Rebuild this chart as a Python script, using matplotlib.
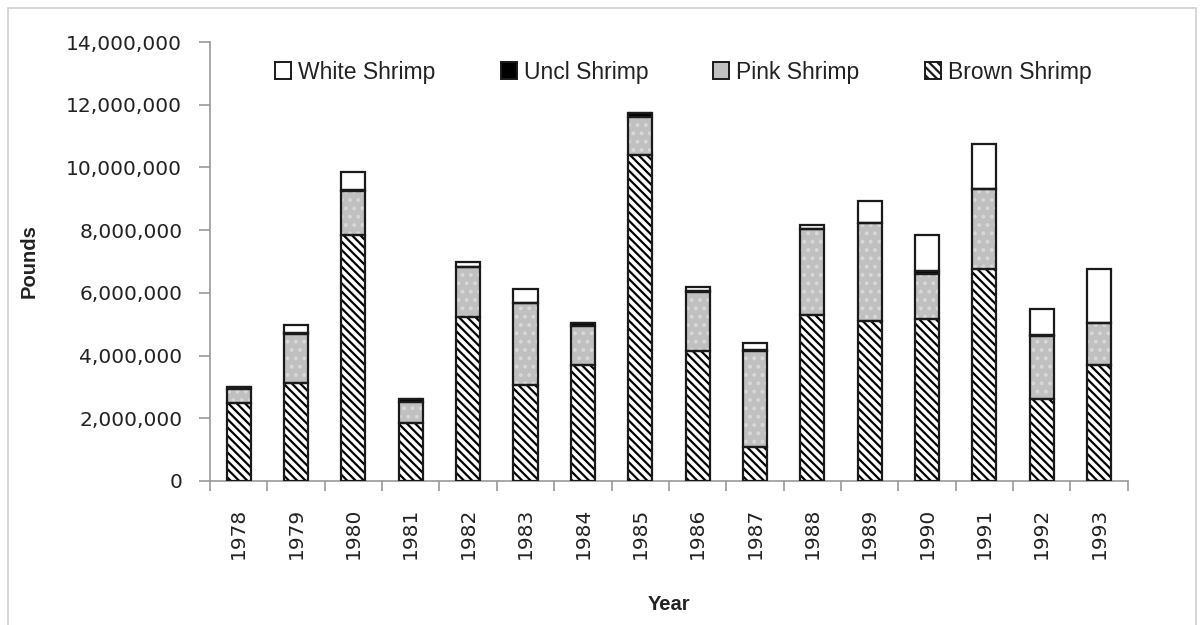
import numpy as np
import matplotlib
matplotlib.use("Agg")
from matplotlib import pyplot as plt
from matplotlib.patches import Rectangle, Patch
from matplotlib.ticker import FuncFormatter

# landings by year, pounds
years = ["1978", "1979", "1980", "1981", "1982", "1983", "1984", "1985",
         "1986", "1987", "1988", "1989", "1990", "1991", "1992", "1993"]
brown = [2500000, 3110000, 7840000, 1860000, 5220000, 3060000, 3700000, 10400000,
         4150000, 1100000, 5290000, 5110000, 5170000, 6750000, 2610000, 3700000]
pink = [420000, 1590000, 1420000, 670000, 1590000, 2610000, 1250000, 1200000,
        1890000, 3060000, 2740000, 3110000, 1430000, 2550000, 2030000, 1330000]
uncl = [80000, 20000, 10000, 80000, 10000, 10000, 90000, 140000,
        10000, 10000, 10000, 10000, 100000, 10000, 10000, 10000]
white = [0, 250000, 570000, 0, 180000, 440000, 10000, 0,
         130000, 220000, 120000, 710000, 1130000, 1430000, 820000, 1710000]

plt.rcParams['hatch.linewidth'] = 1.6

fig = plt.figure(figsize=(12.01, 6.25), dpi=100)
ax = fig.add_axes([0.1749, 0.2304, 0.7641, 0.7024])

# thin grey frame round the whole chart
fig.patches.append(Rectangle((8/1201, -0.01), 1188/1201, 1.01 - 8/625,
                             transform=fig.transFigure, fill=False,
                             edgecolor="#d0d0d0", linewidth=1.2))

x = np.arange(len(years))
w = 0.42
edge = "#1a1a1a"

b0 = np.zeros(len(years))
series = [
    (brown, "white", "\\\\\\\\", "black"),
    (pink, "#c0c0c0", "..", "#d8d8d8"),
    (uncl, "black", None, None),
    (white, "white", None, None),
]
for vals, fc, hatch, hc in series:
    vals = np.array(vals, dtype=float)
    if hatch:
        ax.bar(x, vals, w, bottom=b0, color=fc, hatch=hatch, edgecolor=hc,
               linewidth=0, zorder=2)
    else:
        ax.bar(x, vals, w, bottom=b0, color=fc, linewidth=0, zorder=2)
    ax.bar(x, vals, w, bottom=b0, fill=False, edgecolor=edge,
           linewidth=1.6, zorder=3)
    b0 = b0 + vals

ax.set_xlim(-0.5, len(years) - 0.5)
ax.set_ylim(0, 14000000)
ax.set_yticks(np.arange(0, 14000001, 2000000))
ax.yaxis.set_major_formatter(FuncFormatter(lambda v, p: f"{int(v):,}"))

ax.set_xticks(x)
ax.set_xticklabels(years, rotation=90, fontsize=14.5, color="#222222")
ax.set_xticks(np.arange(-0.5, len(years)), minor=True)
ax.tick_params(axis="x", which="major", length=0, pad=19)
ax.tick_params(axis="x", which="minor", length=7, color="#999999", width=1.2)
ax.tick_params(axis="y", length=8, color="#999999", width=1.2, labelsize=14.5,
               pad=12, labelcolor="#222222")

for s in ["top", "right"]:
    ax.spines[s].set_visible(False)
for s in ["left", "bottom"]:
    ax.spines[s].set_color("#999999")
    ax.spines[s].set_linewidth(1.2)

lab_font = dict(family="Liberation Sans", fontsize=14.5, fontweight="bold",
                color="#222222")
ax.set_ylabel("Pounds", labelpad=20, **lab_font)
ax.set_xlabel("Year", labelpad=26, **lab_font)

handles = [
    Patch(facecolor="white", edgecolor=edge, linewidth=1.4, label="White Shrimp"),
    Patch(facecolor="black", edgecolor=edge, linewidth=1.4, label="Uncl Shrimp"),
    Patch(facecolor="#c0c0c0", edgecolor=edge, linewidth=1.4, label="Pink Shrimp"),
    Patch(facecolor="white", edgecolor=edge, hatch="\\\\\\\\", linewidth=1.4,
          label="Brown Shrimp"),
]
leg = fig.legend(handles=handles, ncol=4, frameon=False, loc="center left",
                 bbox_to_anchor=(275 / 1201, 1 - 72 / 625), borderpad=0,
                 borderaxespad=0, handlelength=0.7, handleheight=0.7,
                 handletextpad=0.3, columnspacing=2.85,
                 prop=dict(family="Liberation Sans", size=16.5))
for t in leg.get_texts():
    t.set_color("#222222")

fig.savefig("out.png", dpi=100)
